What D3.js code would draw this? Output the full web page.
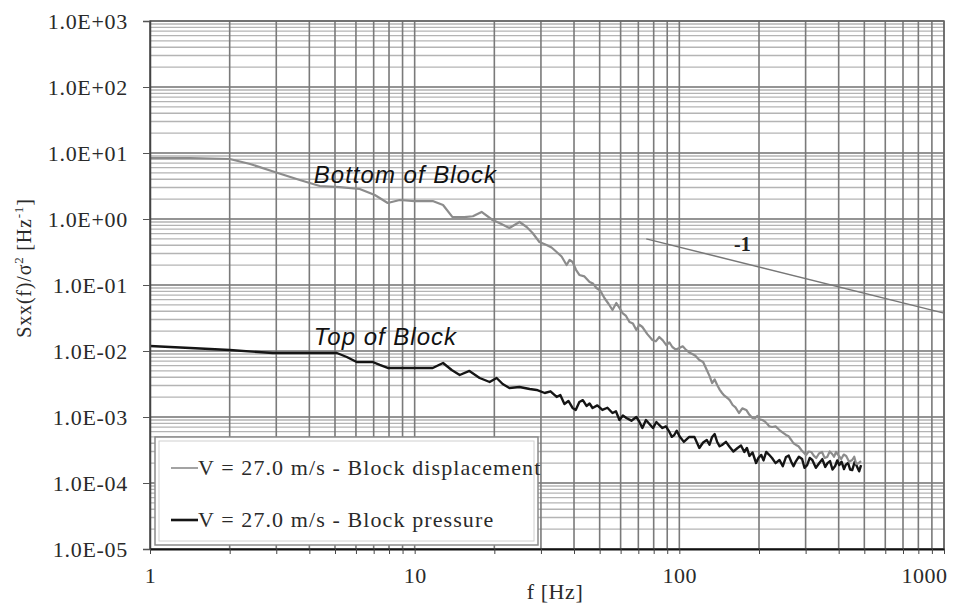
<!DOCTYPE html>
<html>
<head>
<meta charset="utf-8">
<script src="https://cdn.jsdelivr.net/npm/d3@7"></script>
<style>
  body { margin: 0; background: #fff; }
  svg { display: block; }
</style>
</head>
<body>
<svg id="chart" width="971" height="606"></svg>
<script>
// Block displacement spectrum (grey curve), f [Hz] / Sxx(f)/sigma^2
const dispFreq = [1, 1.42, 2.0, 2.39, 2.96, 3.68, 4.38, 5.21, 6.2, 7.07,
  7.91, 8.78, 10, 11.7, 12.8, 13.9, 15.4, 16.6, 17.9, 19.7,
  20.9, 22.8, 24.9, 26.5, 27.9, 29.6, 31.5, 32.9, 34.4, 35.9,
  37.5, 38.5, 39.5, 40.7, 41.9, 43.8, 45.8, 47.2, 48.6, 50.3,
  52.1, 54.0, 55.9, 57.8, 59.4, 61.0, 62.9, 64.8, 66.8, 68.8,
  70.6, 72.5, 75.7, 79.1, 81.5, 84.0, 86.6, 89.3, 91.7, 94.1,
  97.0, 100, 103, 106, 109, 112, 115, 119, 123, 127,
  130, 133, 136, 139, 142, 145, 148, 152, 155, 159,
  163, 168, 173, 179, 184, 189, 193, 197, 201, 206,
  210, 215, 219, 224, 231, 239, 246, 253, 259, 265,
  270, 276, 282, 289, 295, 301, 308, 315, 322, 329,
  337, 346, 354, 362, 370, 378, 384, 391, 400, 409,
  418, 427, 438, 450, 458, 466, 476, 486];
const dispVal = [8.4, 8.4, 8.11, 6.81, 5.15, 3.9, 3.16, 3.05, 2.85, 2.31,
  1.75, 1.94, 1.87, 1.87, 1.63, 1.07, 1.07, 1.1, 1.28, 0.966,
  0.87, 0.731, 0.901, 0.756, 0.614, 0.448, 0.404, 0.37, 0.316, 0.27,
  0.201, 0.24, 0.223, 0.17, 0.142, 0.135, 0.111, 0.105, 0.0901, 0.082,
  0.0635, 0.052, 0.0418, 0.0534, 0.045, 0.0376, 0.034, 0.0275, 0.026, 0.0208,
  0.025, 0.0231, 0.018, 0.0147, 0.014, 0.0163, 0.0145, 0.0123, 0.0135, 0.0115,
  0.0105, 0.0111, 0.0118, 0.0104, 0.0095, 0.009, 0.0085, 0.0073, 0.0068, 0.00515,
  0.0042, 0.00327, 0.0037, 0.00305, 0.0026, 0.00231, 0.0021, 0.00194, 0.0018, 0.00152,
  0.0014, 0.00115, 0.00135, 0.00128, 0.00108, 0.000966, 0.00095, 0.00104, 0.00092, 0.000901,
  0.00086, 0.000783, 0.00072, 0.000706, 0.00072, 0.000635, 0.00058, 0.000534, 0.00051, 0.000448,
  0.0004, 0.000377, 0.00036, 0.000316, 0.00029, 0.000266, 0.0003, 0.000295, 0.00026, 0.000239,
  0.00028, 0.000295, 0.00024, 0.000248, 0.0003, 0.000275, 0.00025, 0.000295, 0.00026, 0.000231,
  0.00027, 0.000257, 0.00021, 0.000223, 0.00025, 0.000194, 0.0002, 0.000215];

// Block pressure spectrum (black curve)
const presFreq = [1, 1.42, 2.0, 2.91, 3.68, 5.08, 5.54, 6.04, 6.94, 7.38,
  7.91, 9.58, 11.7, 12.8, 13.8, 14.8, 16.1, 17.6, 19.2, 20.4,
  21.5, 22.8, 24.9, 27.2, 28.9, 31.0, 32.6, 34.4, 35.5, 36.8,
  38.1, 39.5, 40.6, 41.9, 43.2, 44.6, 45.8, 47.0, 49.0, 51.2,
  53.5, 55.9, 57.6, 59.4, 61.2, 63.1, 65.9, 68.8, 70.6, 72.5,
  74.8, 77.1, 79.5, 81.9, 84.1, 86.3, 89.0, 91.7, 93.7, 95.7,
  97.8, 100, 104, 109, 114, 119, 123, 127, 130, 133,
  136, 139, 142, 145, 150, 155, 160, 166, 171, 176,
  180, 184, 189, 195, 199, 204, 208, 213, 218, 224,
  231, 239, 246, 253, 259, 265, 270, 276, 283, 291,
  297, 304, 311, 318, 328, 338, 347, 356, 363, 371,
  379, 388, 395, 402, 410, 419, 426, 434, 442, 450,
  460, 470, 478, 486];
const presVal = [0.0119, 0.0111, 0.01035, 0.00933, 0.00933, 0.00933, 0.00811, 0.00681, 0.00681, 0.00614,
  0.00553, 0.00553, 0.00553, 0.00658, 0.00515, 0.00433, 0.00498, 0.0039, 0.00339, 0.0039,
  0.00316, 0.00275, 0.00285, 0.00266, 0.00257, 0.00231, 0.00245, 0.00201, 0.00215, 0.00157,
  0.00175, 0.00137, 0.00128, 0.00169, 0.0018, 0.00147, 0.0016, 0.00137, 0.0015, 0.00128,
  0.00138, 0.00115, 0.00122, 0.000901, 0.00105, 0.000966, 0.00088, 0.001, 0.00085, 0.000681,
  0.0009, 0.000783, 0.00068, 0.00084, 0.00075, 0.000681, 0.00072, 0.000593, 0.0005, 0.000534,
  0.00062, 0.000515, 0.00042, 0.000498, 0.0005, 0.000339, 0.00041, 0.000448, 0.00038, 0.000498,
  0.00055, 0.000418, 0.00036, 0.000377, 0.00042, 0.000351, 0.0003, 0.000339, 0.00037, 0.000295,
  0.00034, 0.000257, 0.00029, 0.000201, 0.00024, 0.000266, 0.00022, 0.000295, 0.00027, 0.000239,
  0.0002, 0.000223, 0.00018, 0.000248, 0.00026, 0.000208, 0.00018, 0.000215, 0.00025, 0.000231,
  0.00017, 0.000187, 0.00024, 0.000223, 0.00017, 0.000201, 0.00023, 0.000175, 0.0002, 0.000215,
  0.00016, 0.000181, 0.00022, 0.000187, 0.00021, 0.000163, 0.00019, 0.000201, 0.00016, 0.000157,
  0.00021, 0.000175, 0.00015, 0.000187];

// reference slope line "-1"
const slopeFreq = [75, 1000];
const slopeVal = [0.5, 0.0375];

const xTickValues = [1, 10, 100, 1000];
const xTickLabels = ['1', '10', '100', '1000'];
const yTickValues = [1e-5, 1e-4, 1e-3, 1e-2, 1e-1, 1, 1e1, 1e2, 1e3];
const yTickLabels = ['1.0E-05', '1.0E-04', '1.0E-03', '1.0E-02', '1.0E-01', '1.0E+00', '1.0E+01', '1.0E+02', '1.0E+03'];

const seriesNames = ['V = 27.0 m/s - Block displacement', 'V = 27.0 m/s - Block pressure'];

const serif = '"Liberation Serif", "Times New Roman", serif';
const sans = '"Liberation Sans", Arial, sans-serif';

const margin = { top: 21, right: 27, bottom: 57, left: 150 };
const width = 971 - margin.left - margin.right;
const height = 606 - margin.top - margin.bottom;

const svg = d3.select('#chart');
const g = svg.append('g')
  .attr('transform', `translate(${margin.left},${margin.top})`);

const x = d3.scaleLog().domain([1, 1000]).range([0, width]);
const y = d3.scaleLog().domain([1e-5, 1e3]).range([height, 0]);

// grid: horizontal first (lighter), then vertical
const yMinor = y.ticks(20);
g.append('g')
  .selectAll('line')
  .data(yMinor)
  .enter()
  .append('line')
  .attr('x1', 0)
  .attr('x2', width)
  .attr('y1', d => y(d))
  .attr('y2', d => y(d))
  .attr('stroke', d => yTickValues.includes(d) ? '#707070' : '#b4b4b4')
  .attr('stroke-width', d => yTickValues.includes(d) ? 1.6 : 1.3);

const xMinor = x.ticks();
g.append('g')
  .selectAll('line')
  .data(xMinor)
  .enter()
  .append('line')
  .attr('x1', d => x(d))
  .attr('x2', d => x(d))
  .attr('y1', 0)
  .attr('y2', height)
  .attr('stroke', '#7a7a7a')
  .attr('stroke-width', 1.6);

// frame
g.append('rect')
  .attr('width', width)
  .attr('height', height)
  .attr('fill', 'none')
  .attr('stroke', '#666')
  .attr('stroke-width', 1.5);

// curves
const line = d3.line()
  .x(d => x(d[0]))
  .y(d => y(d[1]));

g.append('path')
  .datum(d3.zip(slopeFreq, slopeVal))
  .attr('fill', 'none')
  .attr('stroke', '#777')
  .attr('stroke-width', 1.5)
  .attr('d', line);

g.append('path')
  .datum(d3.zip(presFreq, presVal))
  .attr('fill', 'none')
  .attr('stroke', '#151515')
  .attr('stroke-width', 2.4)
  .attr('stroke-linejoin', 'round')
  .attr('d', line);

g.append('path')
  .datum(d3.zip(dispFreq, dispVal))
  .attr('fill', 'none')
  .attr('stroke', '#8c8c8c')
  .attr('stroke-width', 2.2)
  .attr('stroke-linejoin', 'round')
  .attr('d', line);

// axes
const yAxis = g.append('g')
  .call(d3.axisLeft(y)
    .tickValues(yTickValues)
    .tickSize(7)
    .tickPadding(15)
    .tickFormat((d, i) => yTickLabels[i]));
yAxis.select('.domain').attr('stroke', '#444').attr('stroke-width', 1.5);
yAxis.selectAll('.tick line').attr('stroke', '#555');
yAxis.selectAll('text')
  .attr('font-family', serif)
  .attr('font-size', 22)
  .attr('letter-spacing', 0.7)
  .attr('fill', '#2a2a2a');

const xAxis = g.append('g')
  .attr('transform', `translate(0,${height})`)
  .call(d3.axisBottom(x)
    .tickValues(xMinor)
    .tickSize(5)
    .tickSizeOuter(0)
    .tickFormat(d => {
      const i = xTickValues.indexOf(d);
      return i >= 0 ? xTickLabels[i] : '';
    }));
xAxis.select('.domain').attr('stroke', '#111').attr('stroke-width', 2.2);
xAxis.selectAll('.tick line').attr('stroke', '#444');
xAxis.selectAll('text')
  .attr('font-family', serif)
  .attr('font-size', 22)
  .attr('letter-spacing', 0.5)
  .attr('fill', '#2a2a2a')
  .attr('dy', '1.2em')
  .attr('text-anchor', d => d === 1000 ? 'end' : 'middle')
  .attr('dx', d => d === 1000 ? 3 : 0);

// axis titles
svg.append('text')
  .attr('x', 555)
  .attr('y', 599)
  .attr('text-anchor', 'middle')
  .attr('font-family', serif)
  .attr('font-size', 22)
  .attr('letter-spacing', 0.6)
  .attr('fill', '#2a2a2a')
  .text('f [Hz]');

const yTitle = svg.append('text')
  .attr('transform', 'translate(31,268) rotate(-90)')
  .attr('text-anchor', 'middle')
  .attr('font-family', serif)
  .attr('font-size', 20)
  .attr('letter-spacing', 0.8)
  .attr('fill', '#2a2a2a');
yTitle.append('tspan').text('Sxx(f)/σ');
yTitle.append('tspan').attr('font-size', 13).attr('dy', -8).text('2');
yTitle.append('tspan').attr('dy', 8).text(' [Hz');
yTitle.append('tspan').attr('font-size', 13).attr('dy', -8).text('-1');
yTitle.append('tspan').attr('dy', 8).text(']');

// annotations
g.append('text')
  .attr('x', x(4.16))
  .attr('y', y(3.5))
  .attr('font-family', sans)
  .attr('font-style', 'italic')
  .attr('font-size', 24)
  .attr('letter-spacing', 1)
  .attr('fill', '#111')
  .text('Bottom of Block');

g.append('text')
  .attr('x', x(4.16))
  .attr('y', y(0.0125))
  .attr('font-family', sans)
  .attr('font-style', 'italic')
  .attr('font-size', 24)
  .attr('letter-spacing', 1)
  .attr('fill', '#111')
  .text('Top of Block');

g.append('text')
  .attr('x', x(161))
  .attr('y', y(0.327))
  .attr('font-family', serif)
  .attr('font-weight', 'bold')
  .attr('font-size', 20)
  .attr('fill', '#222')
  .text('-1');

// legend
const legend = svg.append('g').attr('transform', 'translate(155,437)');
legend.append('rect')
  .attr('width', 383)
  .attr('height', 108)
  .attr('fill', '#fff')
  .attr('stroke', '#8a8a8a')
  .attr('stroke-width', 1.5);
legend.append('rect')
  .attr('x', 4)
  .attr('y', 4)
  .attr('width', 375)
  .attr('height', 100)
  .attr('fill', 'none')
  .attr('stroke', '#d0d0d0')
  .attr('stroke-width', 1);

const legendColors = ['#8c8c8c', '#151515'];
const legendWidths = [1.6, 2.6];
seriesNames.forEach((name, i) => {
  const row = legend.append('g').attr('transform', `translate(0,${31 + i * 52})`);
  row.append('line')
    .attr('x1', 16)
    .attr('x2', 43)
    .attr('stroke', legendColors[i])
    .attr('stroke-width', legendWidths[i]);
  row.append('text')
    .attr('x', 43)
    .attr('y', 7)
    .attr('font-family', serif)
    .attr('font-size', 22)
    .attr('letter-spacing', 1.1)
    .attr('fill', '#2a2a2a')
    .text(name);
});
</script>
</body>
</html>
